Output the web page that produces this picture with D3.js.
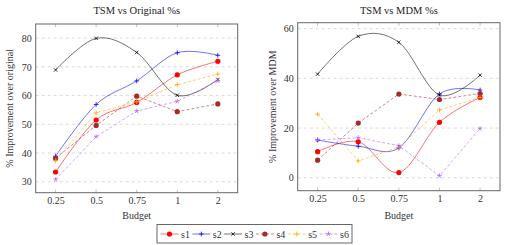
<!DOCTYPE html>
<html>
<head>
<meta charset="utf-8">
<script src="https://cdn.jsdelivr.net/npm/d3@7"></script>
<style>
  body { margin: 0; background: #fff; }
</style>
</head>
<body>
<script>
// categories
const budgets = ['0.25', '0.5', '0.75', '1', '2'];
const seriesNames = ['s1', 's2', 's3', 's4', 's5', 's6'];

// TSM vs Original
const origS1 = [33.4, 51.5, 57.6, 67.2, 71.9];
const origS2 = [38.9, 56.9, 65.1, 74.9, 74.0];
const origS3 = [68.9, 79.9, 75.0, 60.1, 65.6];
const origS4 = [38.2, 49.6, 59.8, 54.4, 57.1];
const origS5 = [37.3, 54.0, 57.8, 63.8, 67.5];
const origS6 = [30.8, 45.7, 54.6, 58.0, 65.1];
const origTicks = [30, 40, 50, 60, 70, 80];

// TSM vs MDM
const mdmS1 = [10.5, 14.5, 2.1, 22.3, 32.3];
const mdmS2 = [15.2, 12.7, 12.0, 33.7, 35.3];
const mdmS3 = [41.7, 56.9, 54.5, 33.3, 41.3];
const mdmS4 = [7.1, 22.0, 33.7, 31.5, 33.9];
const mdmS5 = [25.6, 6.8, 12.3, 27.3, 32.3];
const mdmS6 = [15.2, 16.1, 12.9, 0.8, 19.8];
const mdmTicks = [0, 20, 40, 60];

const FONT = '"Liberation Serif"';

// styling per series
const styles = {
  s1: { color: '#ff0000', mark: 'circle', dash: null, smooth: true },
  s2: { color: '#0000ff', mark: 'plus', dash: null, smooth: true },
  s3: { color: '#000000', mark: 'cross', dash: null, smooth: true },
  s4: { color: '#a52a2a', mark: 'circle', dash: '3,2', smooth: false },
  s5: { color: '#ffa500', mark: 'plus', dash: '3,2', smooth: false },
  s6: { color: '#b05cff', mark: 'star', dash: '3,2', smooth: false }
};

const svg = d3.select('body')
  .append('svg')
  .attr('width', 505)
  .attr('height', 245);

function drawMark(g, type, color, x, y) {
  if (type == 'circle') {
    g.append('circle')
      .attr('cx', x).attr('cy', y).attr('r', 2.6)
      .attr('fill', color);
  } else {
    let s = 2.4;
    let angles;
    if (type == 'plus') angles = [0, 90];
    else if (type == 'cross') angles = [45, 135];
    else angles = [90, 162, 234, 306, 18];
    angles.forEach(a => {
      let r = a * Math.PI / 180;
      let full = type != 'star';
      g.append('line')
        .attr('x1', full ? x - s * Math.cos(r) : x)
        .attr('y1', full ? y + s * Math.sin(r) : y)
        .attr('x2', x + s * Math.cos(r))
        .attr('y2', y - s * Math.sin(r))
        .attr('stroke', color)
        .attr('stroke-width', 0.8);
    });
  }
}

function addText(g, x, y, str, size, fill) {
  return g.append('text')
    .attr('x', x).attr('y', y)
    .attr('font-family', FONT)
    .attr('font-size', size)
    .attr('fill', fill)
    .text(str);
}

function drawPanel(cfg) {
  const x = d3.scalePoint()
    .domain(budgets)
    .range([cfg.left, cfg.right])
    .padding(0.49);

  const y = d3.scaleLinear()
    .domain(cfg.domain)
    .range([cfg.bottom, cfg.top]);

  const g = svg.append('g');

  // grid
  g.selectAll('line.grid')
    .data(cfg.ticks)
    .enter()
    .append('line')
    .attr('class', 'grid')
    .attr('x1', cfg.left).attr('x2', cfg.right)
    .attr('y1', d => y(d)).attr('y2', d => y(d))
    .attr('stroke', '#d0d0d0')
    .attr('stroke-width', 0.8)
    .attr('stroke-dasharray', '3,3');

  // small inward ticks
  budgets.forEach(b => {
    [[cfg.bottom, -3], [cfg.top, 3]].forEach(([yy, d]) => {
      g.append('line')
        .attr('x1', x(b)).attr('x2', x(b))
        .attr('y1', yy).attr('y2', yy + d)
        .attr('stroke', '#999').attr('stroke-width', 0.6);
    });
  });

  // axes
  const xAxis = d3.axisBottom(x).tickSize(0).tickPadding(4.5);
  const yAxis = d3.axisLeft(y).tickValues(cfg.ticks).tickSize(0).tickPadding(4);

  const gx = g.append('g')
    .attr('transform', `translate(0, ${cfg.bottom})`)
    .call(xAxis);
  const gy = g.append('g')
    .attr('transform', `translate(${cfg.left}, 0)`)
    .call(yAxis);
  [gx, gy].forEach(a => {
    a.attr('font-family', FONT).attr('font-size', 10);
    a.select('.domain').remove();
    a.selectAll('text').attr('fill', '#333');
  });

  // series
  seriesNames.forEach((name, i) => {
    const st = styles[name];
    const vals = cfg.values[i];
    const pts = budgets.map((b, j) => [x(b), y(vals[j])]);
    const line = d3.line()
      .curve(st.smooth ? d3.curveCardinal.tension(0) : d3.curveLinear);
    g.append('path')
      .attr('d', line(pts))
      .attr('fill', 'none')
      .attr('stroke', st.color)
      .attr('stroke-opacity', 0.7)
      .attr('stroke-width', 0.8)
      .attr('stroke-dasharray', st.dash);
    pts.forEach(p => drawMark(g, st.mark, st.color, p[0], p[1]));
  });

  // frame
  g.append('rect')
    .attr('x', cfg.left).attr('y', cfg.top)
    .attr('width', cfg.right - cfg.left)
    .attr('height', cfg.bottom - cfg.top)
    .attr('fill', 'none')
    .attr('stroke', '#666')
    .attr('stroke-width', 1);

  addText(g, (cfg.left + cfg.right) / 2, 14, cfg.title, 10.5, '#222')
    .attr('text-anchor', 'middle');

  addText(g, (cfg.left + cfg.right) / 2, 218.5, 'Budget', 10, '#333')
    .attr('text-anchor', 'middle');

  addText(g, 0, 0, cfg.ylabel, 10, '#333')
    .attr('text-anchor', 'middle')
    .attr('transform', `translate(${cfg.ylabelX}, ${(cfg.top + cfg.bottom) / 2}) rotate(-90)`);
}

drawPanel({
  left: 35.7, right: 237.7, top: 24, bottom: 192.7,
  domain: [26.2, 84.9], ticks: origTicks,
  values: [origS1, origS2, origS3, origS4, origS5, origS6],
  title: 'TSM vs Original %s',
  ylabel: '% Improvement over original',
  ylabelX: 13
});

drawPanel({
  left: 297.7, right: 500, top: 22.7, bottom: 190.7,
  domain: [-5.2, 62.4], ticks: mdmTicks,
  values: [mdmS1, mdmS2, mdmS3, mdmS4, mdmS5, mdmS6],
  title: 'TSM vs MDM %s',
  ylabel: '% Improvement over MDM',
  ylabelX: 275.5
});

// legend
const legend = svg.append('g');
legend.append('rect')
  .attr('x', 157).attr('y', 224.5)
  .attr('width', 195).attr('height', 18.5)
  .attr('fill', '#fff')
  .attr('stroke', '#666')
  .attr('stroke-width', 1);

seriesNames.forEach((name, i) => {
  const st = styles[name];
  const x0 = 160.5 + i * 31.8;
  const yy = 234;
  legend.append('line')
    .attr('x1', x0).attr('x2', x0 + 18)
    .attr('y1', yy).attr('y2', yy)
    .attr('stroke', st.color)
    .attr('stroke-opacity', 0.7)
    .attr('stroke-width', 0.8)
    .attr('stroke-dasharray', st.dash);
  drawMark(legend, st.mark, st.color, x0 + 9, yy);
  addText(legend, x0 + 20.5, yy + 3.5, name, 10, '#333');
});
</script>
</body>
</html>
